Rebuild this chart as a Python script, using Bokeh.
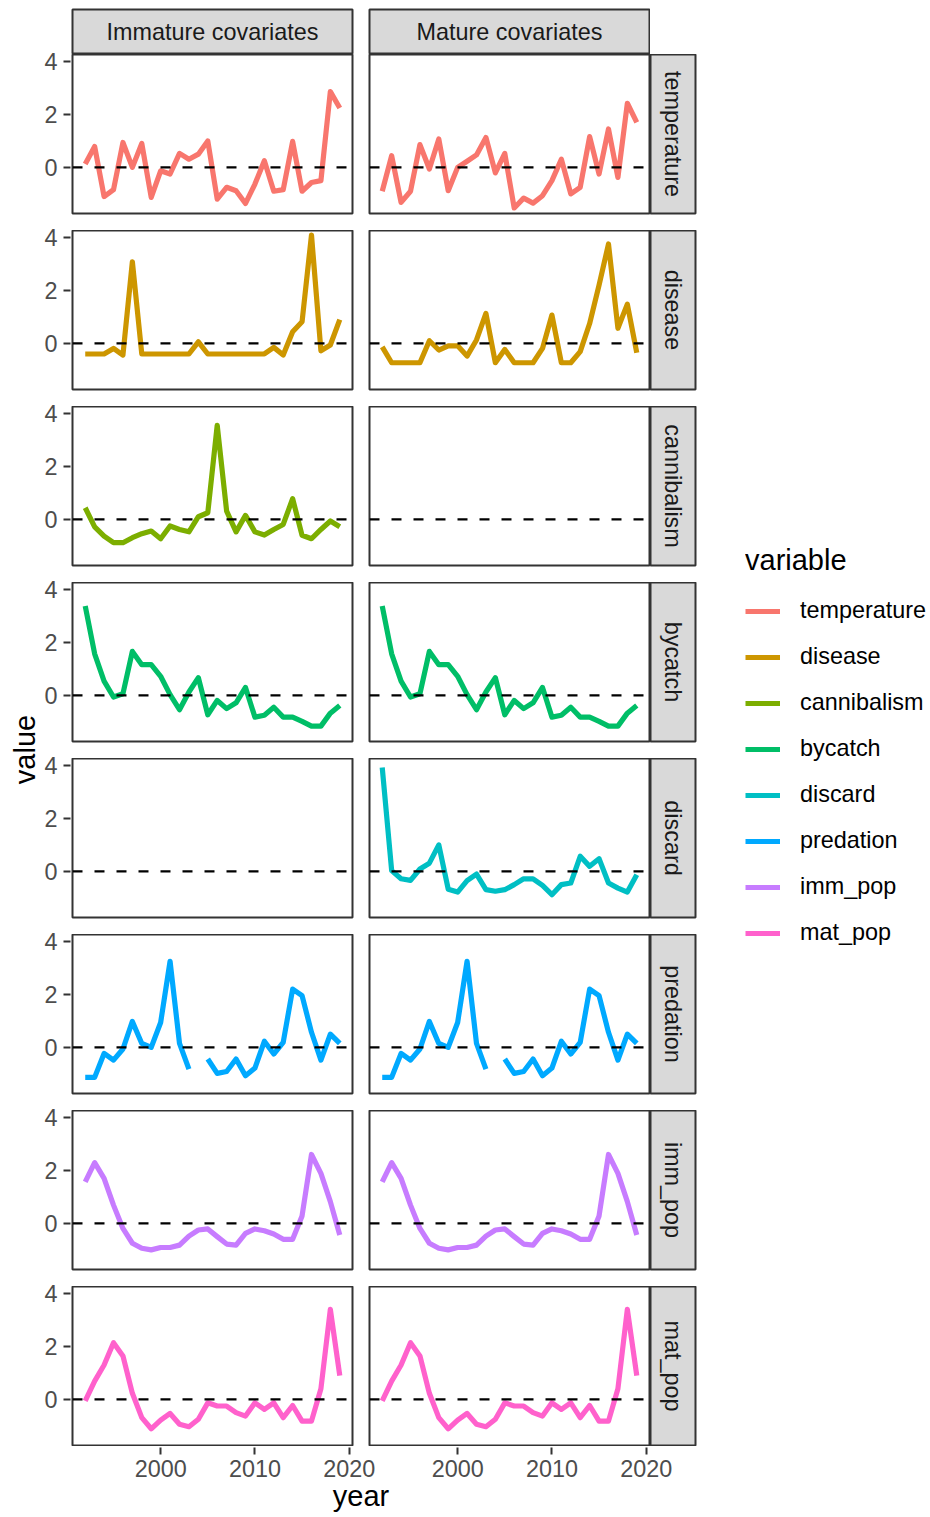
import math
from bokeh.plotting import figure
from bokeh.models import Range1d, Span, FixedTicker, Legend, LegendItem, Spacer, CustomJSTickFormatter
from bokeh.layouts import row, column
from bokeh.embed import file_html
from bokeh.resources import INLINE
from bokeh.core.properties import value

nan = float("nan")
years = list(range(1992, 2020))

variables = ["temperature", "disease", "cannibalism", "bycatch",
             "discard", "predation", "imm_pop", "mat_pop"]
colors = ["#F8766D", "#CD9600", "#7CAE00", "#00BE67",
          "#00BFC4", "#00A9FF", "#C77CFF", "#FF61CC"]
columns_lab = ["Immature covariates", "Mature covariates"]
x_ticks = [2000, 2010, 2020]
y_ticks = [0, 2, 4]

temperature_imm = [0.13, 0.79, -1.10, -0.84, 0.94, 0.00, 0.90, -1.13, -0.13, -0.25, 0.53, 0.31, 0.50, 1.00,
                   -1.20, -0.75, -0.88, -1.36, -0.63, 0.25, -0.90, -0.84, 0.98, -0.90, -0.57, -0.50, 2.86, 2.24]
temperature_mat = [-0.90, 0.44, -1.32, -0.90, 0.86, -0.06, 1.07, -0.88, 0.00, 0.23, 0.47, 1.13, -0.21, 0.53,
                   -1.53, -1.16, -1.35, -1.07, -0.50, 0.31, -1.00, -0.75, 1.16, -0.25, 1.45, -0.38, 2.42, 1.70]
disease_imm = [-0.40, -0.40, -0.40, -0.19, -0.44, 3.08, -0.40, -0.40, -0.40, -0.40, -0.40, -0.40, 0.06, -0.40,
               -0.40, -0.40, -0.40, -0.40, -0.40, -0.40, -0.15, -0.44, 0.44, 0.82, 4.09, -0.28, -0.06, 0.90]
disease_mat = [-0.13, -0.73, -0.73, -0.73, -0.73, 0.10, -0.25, -0.09, -0.09, -0.48, 0.13, 1.13, -0.73, -0.23,
               -0.73, -0.73, -0.73, -0.19, 1.07, -0.73, -0.73, -0.31, 0.75, 2.20, 3.75, 0.57, 1.48, -0.35]
cannibalism_imm = [0.44, -0.28, -0.63, -0.88, -0.88, -0.69, -0.54, -0.44, -0.73, -0.25, -0.38, -0.47, 0.10, 0.25,
                   3.55, 0.31, -0.47, 0.15, -0.47, -0.59, -0.38, -0.19, 0.78, -0.60, -0.73, -0.38, -0.06, -0.28]
bycatch_all = [3.37, 1.57, 0.54, -0.06, 0.06, 1.66, 1.16, 1.16, 0.72, 0.03, -0.54, 0.13, 0.67, -0.73,
               -0.19, -0.50, -0.28, 0.30, -0.82, -0.75, -0.45, -0.82, -0.82, -0.98, -1.16, -1.16, -0.67, -0.38]
discard_mat = [3.92, 0.03, -0.28, -0.34, 0.09, 0.31, 1.00, -0.67, -0.78, -0.35, -0.10, -0.69, -0.75, -0.69,
               -0.50, -0.28, -0.28, -0.53, -0.88, -0.50, -0.44, 0.57, 0.19, 0.48, -0.44, -0.63, -0.78, -0.13]
predation_all = [-1.13, -1.13, -0.23, -0.48, -0.06, 0.98, 0.15, 0.00, 0.94, 3.25, 0.15, -0.82, nan, -0.44,
                 -0.98, -0.91, -0.44, -1.07, -0.78, 0.23, -0.25, 0.19, 2.20, 1.95, 0.57, -0.48, 0.50, 0.15]
imm_pop_all = [1.57, 2.29, 1.70, 0.69, -0.19, -0.75, -0.94, -1.00, -0.91, -0.91, -0.82, -0.48, -0.25, -0.21,
               -0.50, -0.78, -0.82, -0.38, -0.21, -0.28, -0.40, -0.60, -0.60, 0.28, 2.60, 1.89, 0.82, -0.44]
mat_pop_all = [-0.06, 0.69, 1.30, 2.14, 1.64, 0.23, -0.69, -1.11, -0.78, -0.53, -0.94, -1.03, -0.75, -0.13,
               -0.25, -0.25, -0.50, -0.63, -0.13, -0.38, -0.13, -0.69, -0.23, -0.82, -0.82, 0.40, 3.40, 0.90]

series_imm = [temperature_imm, disease_imm, cannibalism_imm, bycatch_all,
              None, predation_all, imm_pop_all, mat_pop_all]
series_mat = [temperature_mat, disease_mat, None, bycatch_all,
              discard_mat, predation_all, imm_pop_all, mat_pop_all]

FONT = "Liberation Sans"
SMALL = "23.4px"
BIG = "29px"
X0, X1 = 1990.65, 2020.35
Y0, Y1 = -1.74, 4.26
FRAME_W = 280
FRAME_H = 159
ROW_H = 176
STRIP_H = 46
LW = 5.2
AX_H = 69
N = len(variables)


def base_fig(**kw):
    p = figure(output_backend="svg", toolbar_location=None, **kw)
    p.grid.visible = False
    p.background_fill_color = "white"
    p.border_fill_color = "white"
    return p


def style_axis(ax, standoff):
    ax.axis_line_color = None
    ax.major_tick_line_color = "#333333"
    ax.major_tick_line_width = 2
    ax.major_tick_out = 7
    ax.major_tick_in = 0
    ax.minor_tick_line_color = None
    ax.major_label_text_font = FONT
    ax.major_label_text_font_size = SMALL
    ax.major_label_text_color = "#4D4D4D"
    ax.major_label_standoff = standoff
    ax.axis_label_text_font = FONT
    ax.axis_label_text_font_size = BIG
    ax.axis_label_text_font_style = "normal"
    ax.axis_label_text_color = "black"


def panel(r, c):
    left = c == 0
    last = r == N - 1
    w = 289 if left else 290
    mbl = 1 if left else 9
    mbr = 8 if left else 1
    mbb = 1 if last else ROW_H - FRAME_H
    p = base_fig(width=w, height=FRAME_H + mbb,
                 x_range=Range1d(X0, X1), y_range=Range1d(Y0, Y1),
                 x_axis_location=None, y_axis_location=None,
                 min_border_left=mbl, min_border_right=mbr,
                 min_border_top=0, min_border_bottom=mbb)
    p.outline_line_color = "#333333"
    p.outline_line_width = 2
    s = (series_imm if left else series_mat)[r]
    if s is not None:
        p.line(years, s, line_color=colors[r], line_width=LW, line_join="round")
    p.add_layout(Span(location=0, dimension="width", line_color="black",
                      line_width=2.4, line_dash="10 12"))
    return p


def y_axis_fig():
    # narrow figure holding the y axis of one left-column panel
    p = base_fig(width=31, height=ROW_H, x_range=Range1d(0, 1), y_range=Range1d(Y0, Y1),
                 x_axis_location=None, y_axis_location="left",
                 min_border_left=30, min_border_right=0,
                 min_border_top=8, min_border_bottom=ROW_H - FRAME_H - 8)
    p.outline_line_color = None
    for ax in p.yaxis:
        style_axis(ax, 6)
        ax.ticker = FixedTicker(ticks=y_ticks)
    return p


def strip_top(label, left):
    w = 289 if left else 290
    p = base_fig(width=w, height=STRIP_H, x_range=Range1d(0, 1), y_range=Range1d(0, 1),
                 x_axis_location=None, y_axis_location=None,
                 min_border_left=1 if left else 9, min_border_right=8 if left else 1,
                 min_border_top=1, min_border_bottom=0)
    p.background_fill_color = "#D9D9D9"
    p.outline_line_color = "#333333"
    p.outline_line_width = 2
    p.text(x=[0.5], y=[0.5], text=[label], text_align="center", text_baseline="middle",
           text_font=value(FONT), text_font_size=SMALL, text_color="#1A1A1A")
    return p


def strip_right(label, last):
    mbb = 1 if last else ROW_H - FRAME_H
    p = base_fig(width=50, height=FRAME_H + mbb, x_range=Range1d(0, 1), y_range=Range1d(0, 1),
                 x_axis_location=None, y_axis_location=None,
                 min_border_left=0, min_border_right=5,
                 min_border_top=0, min_border_bottom=mbb)
    p.background_fill_color = "#D9D9D9"
    p.outline_line_color = "#333333"
    p.outline_line_width = 2
    p.text(x=[0.5], y=[0.5], text=[label], angle=-math.pi / 2,
           text_align="center", text_baseline="middle",
           text_font=value(FONT), text_font_size=SMALL, text_color="#1A1A1A")
    return p


rows = [row(strip_top(columns_lab[0], True), strip_top(columns_lab[1], False),
            Spacer(width=50, height=STRIP_H))]
for r, v in enumerate(variables):
    rows.append(row(panel(r, 0), panel(r, 1), strip_right(v, r == N - 1)))

# shared bottom axis spanning both panel columns (carries the "year" title)
px_per_year = FRAME_W / (X1 - X0)
axis_span_px = 577
offset = 297 / px_per_year
ax_fig = base_fig(width=629, height=AX_H,
                  x_range=Range1d(X0, X0 + axis_span_px / px_per_year), y_range=Range1d(0, 1),
                  x_axis_location="below", y_axis_location=None,
                  min_border_left=1, min_border_right=51, min_border_top=0, min_border_bottom=AX_H - 1)
ax_fig.outline_line_color = None
for ax in ax_fig.xaxis:
    style_axis(ax, 5)
    ax.ticker = FixedTicker(ticks=x_ticks + [t + offset for t in x_ticks])
    ax.formatter = CustomJSTickFormatter(args=dict(off=offset),
                                         code="return String(Math.round(tick > 2025 ? tick - off : tick));")
    ax.axis_label = "year"
    ax.axis_label_standoff = 0

grid = column(*rows, ax_fig)
TOTAL_H = STRIP_H + ROW_H * (N - 1) + (FRAME_H + 1) + AX_H

yaxis_col = column(Spacer(width=31, height=STRIP_H - 8),
                   *[y_axis_fig() for _ in variables],
                   Spacer(width=31, height=TOTAL_H - (STRIP_H - 8) - ROW_H * N))

# left strip that carries the shared "value" title
value_fig = base_fig(width=32, height=TOTAL_H, x_range=Range1d(0, 1), y_range=Range1d(0, 1),
                     x_axis_location=None, y_axis_location="left",
                     min_border_left=31, min_border_right=0, min_border_top=0,
                     min_border_bottom=TOTAL_H - 2 * (749 - 8))
value_fig.outline_line_color = None
for ax in value_fig.yaxis:
    style_axis(ax, 0)
    ax.ticker = FixedTicker(ticks=[])
    ax.major_tick_out = 0
    ax.axis_label = "value"
    ax.axis_label_standoff = 0

leg_fig = base_fig(width=228, height=TOTAL_H, x_range=Range1d(0, 1), y_range=Range1d(0, 1),
                   x_axis_location=None, y_axis_location=None,
                   min_border_left=45, min_border_right=0, min_border_top=536, min_border_bottom=0)
leg_fig.outline_line_color = None
items = []
for v, col, s_i, s_m in zip(variables, colors, series_imm, series_mat):
    s = s_i if s_i is not None else s_m
    # proxy renderer (data lies outside this figure's ranges, only the legend key shows)
    rr = leg_fig.line(years, s, line_color=col, line_width=LW)
    items.append(LegendItem(label=v, renderers=[rr]))
legend = Legend(items=items, location="top_left", title="variable",
                margin=0, padding=0, border_line_color=None, background_fill_alpha=0,
                title_text_font=FONT, title_text_font_size=BIG, title_text_font_style="normal",
                title_text_color="black", title_standoff=20,
                label_text_font=FONT, label_text_font_size=SMALL, label_text_color="black",
                glyph_width=35, glyph_height=26, label_height=26, spacing=19, label_standoff=20)
leg_fig.add_layout(legend)

layout = row(column(value_fig), yaxis_col, grid, column(leg_fig))
layout.margin = (8, 0, 0, 8)

open("out.html", "w").write(file_html(layout, INLINE))
